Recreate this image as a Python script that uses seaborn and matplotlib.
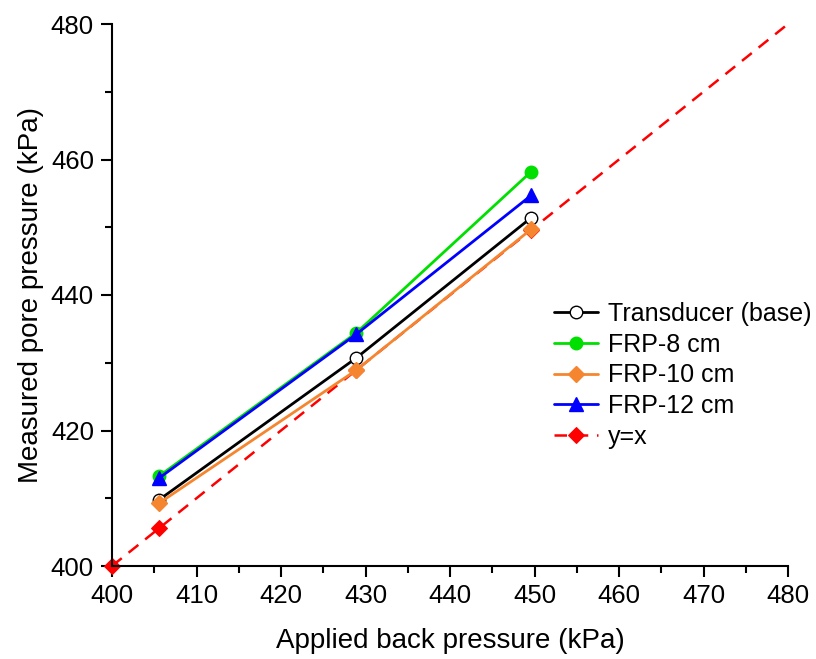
import matplotlib
matplotlib.use("Agg")
import matplotlib.pyplot as plt
import seaborn as sns
import pandas as pd
from matplotlib.ticker import MultipleLocator

sns.set_style("ticks")
plt.rcParams['font.family'] = ['Liberation Sans', 'DejaVu Sans']
plt.rcParams['text.color'] = 'black'
plt.rcParams['axes.labelcolor'] = 'black'

applied = [405.6, 428.9, 449.6]
transducer = [409.8, 430.7, 451.4]
frp8 = [413.3, 434.4, 458.2]
frp10 = [409.3, 428.9, 449.7]
frp12 = [413.0, 434.2, 454.7]
yx_x = [400, 405.6, 428.9, 449.6, 480]

fig = plt.figure(figsize=(8.16, 6.59), dpi=100)
ax = fig.add_axes([112/816, 93/659, 676/816, 542/659])

series = [
    ("Transducer (base)", transducer, "black", "o", "white", 9),
    ("FRP-8 cm", frp8, "#00E000", "o", "#00E000", 9),
    ("FRP-10 cm", frp10, "#F5862F", "D", "#F5862F", 8),
    ("FRP-12 cm", frp12, "#0000FF", "^", "#0000FF", 10),
]
for label, vals, col, mk, fc, ms in series:
    df = pd.DataFrame({"x": applied, "y": vals})
    sns.lineplot(data=df, x="x", y="y", ax=ax, color=col, marker=mk,
                 markerfacecolor=fc, markeredgecolor=(col if fc != "white" else "black"),
                 markeredgewidth=1.0, markersize=ms, linewidth=2, label=label,
                 clip_on=False, zorder=3)

dfyx = pd.DataFrame({"x": yx_x, "y": yx_x})
sns.lineplot(data=dfyx, x="x", y="y", ax=ax, color="#FF0000", marker="D",
             markerfacecolor="#FF0000", markeredgecolor="#FF0000", markersize=8,
             markevery=[0, 1, 2, 3], linewidth=1.8, linestyle=(0, (5, 3.5)),
             label="y=x", clip_on=False, zorder=2)

ax.set_xlim(400, 480)
ax.set_ylim(400, 480)
ax.xaxis.set_major_locator(MultipleLocator(10))
ax.xaxis.set_minor_locator(MultipleLocator(5))
ax.yaxis.set_major_locator(MultipleLocator(20))
ax.yaxis.set_minor_locator(MultipleLocator(10))
ax.tick_params(which="major", direction="out", length=8, width=1.5, labelsize=18.5,
               colors="black", pad=5)
ax.tick_params(which="minor", direction="out", length=5, width=1.5, colors="black")
for s in ["left", "bottom"]:
    ax.spines[s].set_linewidth(1.5)
    ax.spines[s].set_color("black")
sns.despine(ax=ax)

ax.set_xlabel("Applied back pressure (kPa)", fontsize=20, labelpad=14)
ax.set_ylabel("Measured pore pressure (kPa)", fontsize=20, labelpad=5)

leg = ax.legend(loc="upper left", bbox_to_anchor=(554/816, 1 - 302/659),
                bbox_transform=fig.transFigure, frameon=False, fontsize=18,
                handlelength=1.75, labelspacing=0.27, handletextpad=0.4,
                borderaxespad=0, borderpad=0)

fig.savefig("out.png", dpi=100)
